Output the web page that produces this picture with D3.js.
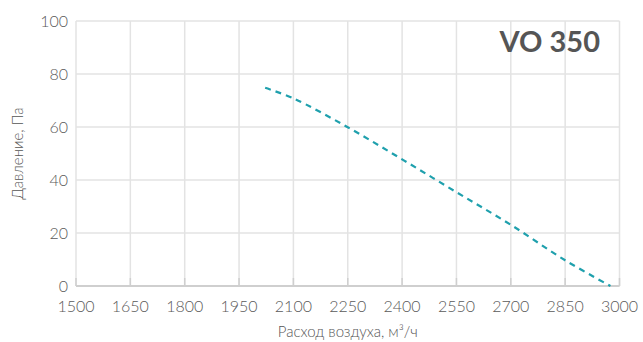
<!DOCTYPE html>
<html>
<head>
<meta charset="utf-8">
<script src="https://cdn.jsdelivr.net/npm/d3@7"></script>
<style>
  html, body { margin: 0; padding: 0; background: #fff; }
  svg { display: block; }
  text { font-family: "Lato", "Open Sans", sans-serif; }
</style>
</head>
<body>
<svg id="chart" width="643" height="342"></svg>
<script>
const title = "VO 350";
const xLabel = "Расход воздуха, м³/ч";
const yLabel = "Давление, Па";
const xTicks = [1500, 1650, 1800, 1950, 2100, 2250, 2400, 2550, 2700, 2850, 3000];
const yTicks = [0, 20, 40, 60, 80, 100];
const flow =     [2022, 2100, 2250, 2400, 2550, 2700, 2850, 2975];
const pressure = [74.8, 70.8, 59.9, 47.8, 35.4, 23.1, 9.7, 0];

const W = 643, H = 342;
const m = {left: 76, right: 23.5, top: 21, bottom: 56};
const svg = d3.select("#chart");

const x = d3.scaleLinear().domain([1500, 3000]).range([m.left, W - m.right]);
const y = d3.scaleLinear().domain([0, 100]).range([H - m.bottom, m.top]);

// grid
const grid = svg.append("g");
grid.selectAll(".vg").data(xTicks).join("line")
  .attr("x1", d => x(d)).attr("x2", d => x(d))
  .attr("y1", y(100)).attr("y2", y(0))
  .attr("stroke", "#e3e3e3").attr("stroke-width", 1.5);
grid.selectAll(".hg").data(yTicks).join("line")
  .attr("x1", x(1500)).attr("x2", x(3000))
  .attr("y1", d => y(d)).attr("y2", d => y(d))
  .attr("stroke", "#e3e3e3").attr("stroke-width", 1.5);

// inner tick marks on x axis
grid.selectAll(".tk").data(xTicks).join("line")
  .attr("x1", d => x(d)).attr("x2", d => x(d))
  .attr("y1", y(0) - 8).attr("y2", y(0))
  .attr("stroke", "#cfcfcf").attr("stroke-width", 1.5);

// x axis line
svg.append("line")
  .attr("x1", x(1500)).attr("x2", x(3000))
  .attr("y1", y(0)).attr("y2", y(0))
  .attr("stroke", "#cfcfcf").attr("stroke-width", 2);

// tick labels
svg.append("g").selectAll("text").data(xTicks).join("text")
  .attr("x", d => x(d)).attr("y", y(0) + 26)
  .attr("text-anchor", "middle")
  .attr("font-size", 16).attr("font-weight", 300).attr("fill", "#5a5a5a")
  .text(d => d);
svg.append("g").selectAll("text").data(yTicks).join("text")
  .attr("x", m.left - 8).attr("y", d => y(d) + 6)
  .attr("text-anchor", "end")
  .attr("font-size", 16).attr("font-weight", 300).attr("fill", "#5a5a5a")
  .text(d => d);

// axis titles
svg.append("text")
  .attr("x", (x(1500) + x(3000)) / 2).attr("y", 337)
  .attr("text-anchor", "middle")
  .attr("font-size", 15).attr("font-weight", 300).attr("fill", "#555")
  .text(xLabel);
svg.append("text")
  .attr("transform", `translate(23, ${(y(0) + y(100)) / 2}) rotate(-90)`)
  .attr("text-anchor", "middle")
  .attr("font-size", 15).attr("font-weight", 300).attr("fill", "#555")
  .text(yLabel);

// title
svg.append("text")
  .attr("x", 600).attr("y", 52)
  .attr("text-anchor", "end")
  .attr("font-size", 29).attr("font-weight", 700).attr("fill", "#555")
  .text(title);

// curve
const pts = flow.map((f, i) => [f, pressure[i]]);
const line = d3.line().x(d => x(d[0])).y(d => y(d[1])).curve(d3.curveCatmullRom);
svg.append("path")
  .attr("d", line(pts))
  .attr("fill", "none")
  .attr("stroke", "#1fa0ad")
  .attr("stroke-width", 2.2)
  .attr("stroke-dasharray", "6,5");
</script>
</body>
</html>
